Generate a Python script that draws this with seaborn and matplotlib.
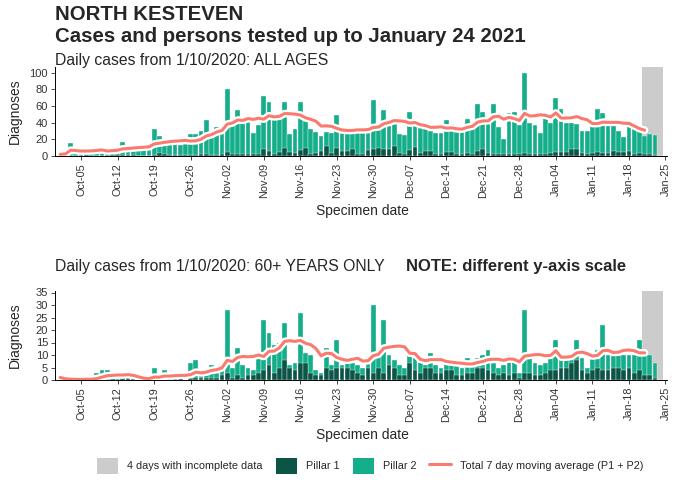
import numpy as np
import pandas as pd
import matplotlib
matplotlib.use("Agg")
import matplotlib.pyplot as plt
import matplotlib.patheffects as pe
from matplotlib.patches import Patch
from matplotlib.lines import Line2D
import seaborn as sns

# ---- data: daily counts from 1 Oct 2020 to 24 Jan 2021 ----
dates = pd.date_range("2020-10-01", "2021-01-24", freq="D")

all_total = [
    2, 3, 16, 5, 4, 6, 7, 6, 7, 7,
    8, 8, 17, 10, 10, 11, 10, 11, 32, 24,
    17, 16, 15, 13, 14, 27, 26, 30, 43, 27,
    35, 27, 80, 36, 55, 40, 42, 28, 37, 72,
    65, 45, 45, 65, 27, 33, 65, 42, 32, 29,
    24, 29, 28, 49, 28, 28, 29, 29, 29, 30,
    67, 32, 55, 40, 45, 27, 25, 53, 37, 37,
    32, 30, 28, 28, 43, 39, 29, 29, 45, 37,
    63, 53, 40, 62, 35, 20, 52, 53, 37, 100,
    40, 37, 28, 47, 40, 70, 57, 40, 40, 38,
    30, 30, 38, 57, 52, 38, 38, 30, 23, 37,
    35, 30, 24, 27, 25, 0,
]
all_pillar1 = [
    0, 0, 0, 0, 0, 1, 0, 0, 0, 0,
    1, 1, 1, 1, 1, 0, 0, 0, 1, 4,
    2, 1, 1, 1, 1, 1, 1, 2, 2, 1,
    1, 2, 5, 2, 3, 2, 3, 2, 3, 9,
    6, 3, 5, 10, 5, 4, 7, 10, 3, 4,
    6, 12, 4, 10, 6, 6, 9, 3, 2, 7,
    8, 10, 9, 8, 12, 4, 3, 7, 11, 4,
    6, 6, 3, 3, 5, 5, 3, 2, 4, 3,
    6, 8, 4, 3, 2, 3, 2, 3, 3, 4,
    3, 2, 2, 3, 4, 5, 5, 5, 8, 9,
    4, 3, 4, 5, 4, 4, 6, 5, 5, 6,
    3, 4, 2, 2, 1, 0,
]
old_total = [
    1, 0, 0, 0, 0, 1, 0, 3, 4, 4,
    1, 1, 1, 1, 1, 0, 0, 0, 5, 1,
    4, 1, 1, 1, 0, 7, 8, 2, 3, 6,
    3, 5, 28, 5, 13, 6, 5, 4, 9, 24,
    19, 14, 15, 23, 6, 7, 27, 11, 10, 4,
    3, 13, 6, 16, 6, 7, 7, 6, 5, 7,
    30, 10, 24, 10, 8, 6, 5, 12, 9, 8,
    6, 11, 6, 5, 7, 7, 6, 5, 9, 6,
    9, 10, 12, 7, 5, 6, 10, 8, 3, 28,
    9, 7, 6, 7, 9, 16, 10, 9, 9, 16,
    9, 5, 9, 12, 22, 10, 10, 10, 10, 10,
    10, 16, 10, 10, 7, 0,
]
old_pillar1 = [
    0, 0, 0, 0, 0, 0, 0, 0, 0, 0,
    1, 0, 1, 1, 1, 0, 0, 0, 1, 1,
    0, 1, 1, 1, 0, 1, 1, 1, 1, 1,
    1, 2, 3, 1, 2, 1, 2, 2, 3, 4,
    6, 3, 5, 8, 5, 4, 7, 7, 3, 2,
    2, 5, 4, 5, 5, 5, 4, 3, 2, 5,
    3, 5, 3, 6, 5, 2, 2, 7, 4, 3,
    5, 5, 3, 3, 4, 4, 2, 2, 3, 3,
    5, 5, 4, 3, 2, 3, 2, 3, 1, 3,
    3, 2, 2, 3, 4, 4, 5, 5, 7, 8,
    4, 3, 4, 5, 4, 4, 5, 5, 4, 5,
    3, 4, 2, 2, 1, 0,
]

incomplete_days = 4
tick_dates = pd.date_range("2020-10-05", "2021-01-25", freq="7D")
tick_labels = [d.strftime("%b-%d") for d in tick_dates]

# ---- styling ----
C_P1 = "#0C5446"
C_P2 = "#14AE8B"
C_MA = "#FB7A6F"
C_GREY = "#CCCCCC"

sns.set_style("white")
plt.rcParams["font.family"] = ["Liberation Sans", "DejaVu Sans"]

W, H = 674, 483
fig = plt.figure(figsize=(W / 100, H / 100), dpi=100)


def fx(px):
    return px / W


def fy(py):
    return 1 - py / H


day = np.arange(len(dates))
tick_pos = [(d - dates[0]).days for d in tick_dates]
last_full = len(dates) - incomplete_days  # first incomplete day index


def panel(ax, total, p1, ymax, yticks):
    total = np.asarray(total, dtype=float)
    p1 = np.asarray(p1, dtype=float)
    ax.axvspan(last_full - 0.5, len(dates) - 0.5, color=C_GREY, lw=0, zorder=0)
    df = pd.DataFrame({"day": day, "total": total, "p1": p1})
    sns.barplot(data=df, x="day", y="total", native_scale=True, color=C_P2,
                width=0.92, errorbar=None, edgecolor="white", linewidth=0.25,
                saturation=1, ax=ax, zorder=2)
    sns.barplot(data=df, x="day", y="p1", native_scale=True, color=C_P1,
                width=0.92, errorbar=None, edgecolor="white", linewidth=0.25,
                saturation=1, ax=ax, zorder=3)
    ma = pd.Series(total).rolling(7, min_periods=1).mean()
    mdf = pd.DataFrame({"day": day[:last_full + 1], "ma": ma[:last_full + 1]})
    sns.lineplot(data=mdf, x="day", y="ma", color=C_MA, lw=2.2, ax=ax, zorder=4,
                 path_effects=[pe.Stroke(linewidth=5.5, foreground="white"), pe.Normal()])
    ax.set_xlim(-1.0, len(dates) + 0.3)
    ax.set_ylim(0, ymax)
    ax.set_yticks(yticks)
    ax.set_xticks(tick_pos)
    ax.set_xticklabels(tick_labels, rotation=90, fontsize=7.8, color="#333333")
    ax.tick_params(axis="y", labelsize=8, colors="#333333", length=3, width=0.6, pad=2)
    ax.tick_params(axis="x", length=3, width=0.6, pad=2)
    ax.tick_params(axis="both", direction="out", bottom=True, left=True)
    for s in ["top", "right"]:
        ax.spines[s].set_visible(False)
    for s in ["left", "bottom"]:
        ax.spines[s].set_color("black")
        ax.spines[s].set_linewidth(0.7)
    ax.set_xlabel("")
    ax.set_ylabel("")


RIGHT = 667
ax1 = fig.add_axes([fx(55), fy(156), fx(RIGHT) - fx(55), fy(67) - fy(156)])
panel(ax1, all_total, all_pillar1, 107, [0, 20, 40, 60, 80, 100])

ax2 = fig.add_axes([fx(55), fy(380), fx(RIGHT) - fx(55), fy(291) - fy(380)])
panel(ax2, old_total, old_pillar1, 35.6, [0, 5, 10, 15, 20, 25, 30, 35])

# ---- text ----
fig.text(fx(55), fy(15), "NORTH KESTEVEN", fontsize=14.7, fontweight="bold", va="center")
fig.text(fx(55), fy(36), "Cases and persons tested up to January 24 2021",
         fontsize=14.7, fontweight="bold", va="center")
fig.text(fx(55), fy(60), "Daily cases from 1/10/2020: ALL AGES", fontsize=11.3, va="center")
fig.text(fx(55), fy(266), "Daily cases from 1/10/2020: 60+ YEARS ONLY", fontsize=11.3, va="center")
fig.text(fx(406), fy(266), "NOTE: different y-axis scale", fontsize=12,
         fontweight="bold", va="center")

for yc in [(67 + 156) / 2, (291 + 380) / 2]:
    fig.text(fx(15), fy(yc), "Diagnoses", rotation=90, fontsize=10, va="center", ha="center")
fig.text(fx(362), fy(211), "Specimen date", fontsize=10, va="center", ha="center")
fig.text(fx(362), fy(435), "Specimen date", fontsize=10, va="center", ha="center")

handles = [
    Patch(facecolor=C_GREY, edgecolor="none", label="4 days with incomplete data"),
    Patch(facecolor=C_P1, edgecolor="none", label="Pillar 1"),
    Patch(facecolor=C_P2, edgecolor="none", label="Pillar 2"),
    Line2D([0], [0], color=C_MA, lw=2.2, label="Total 7 day moving average (P1 + P2)"),
]
fig.legend(handles=handles, loc="center", bbox_to_anchor=(fx(370), fy(466)), ncol=4,
           frameon=False, fontsize=7.8, handlelength=2.0, handleheight=2.0,
           columnspacing=1.2, handletextpad=0.8)

fig.savefig("out.png", dpi=100)
